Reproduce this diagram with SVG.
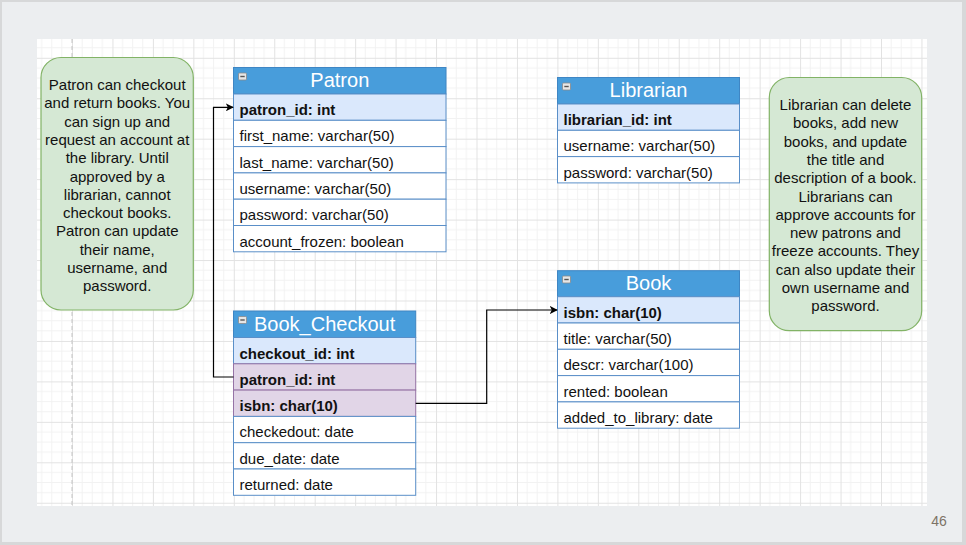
<svg xmlns="http://www.w3.org/2000/svg" width="966" height="545" viewBox="0 0 966 545">
<defs>
<pattern id="grid" patternUnits="userSpaceOnUse" x="72" y="57.8" width="40.45" height="40.45">
<path d="M10.11 0V40.45M20.22 0V40.45M30.33 0V40.45M0 10.11H40.45M0 20.22H40.45M0 30.33H40.45" stroke="#f2f2f2" stroke-width="1" fill="none"/>
<path d="M0.5 0V40.45M0 0.5H40.45" stroke="#e2e2e2" stroke-width="1" fill="none"/>
</pattern>
<marker id="arr" viewBox="0 0 10 10" refX="9" refY="5" markerWidth="8" markerHeight="8" markerUnits="userSpaceOnUse" orient="auto">
<path d="M0 0L10 5L0 10L2.5 5Z" fill="#000"/>
</marker>
<g id="tog"><rect x="0" y="0" width="8" height="7" rx="1" fill="#e6e6e6" stroke="#8a8a8a" stroke-width="0.8"/><line x1="1.8" y1="3.5" x2="6.2" y2="3.5" stroke="#555" stroke-width="1.4"/></g>
</defs>
<style>
.hd{fill:#489ddb;stroke:#3f86c4;stroke-width:1}
.ttl{font-family:"Liberation Sans",Arial,sans-serif;font-size:20px;fill:#fff;text-anchor:middle}
.pk{fill:#dae8fc;stroke:#5a8fc8;stroke-width:1}
.fk{fill:#e1d5e7;stroke:#9673a6;stroke-width:1}
.rw{fill:#fff;stroke:#5a8fc8;stroke-width:1}
.t{font-family:"Liberation Sans",Arial,sans-serif;font-size:15px;fill:#111}
.b{font-weight:bold}
.note{fill:#d5e8d4;stroke:#82b366;stroke-width:1.2}
.nt{font-family:"Liberation Sans",Arial,sans-serif;font-size:15px;fill:#111;text-anchor:middle}
.con{fill:none;stroke:#000;stroke-width:1.2}
</style>
<rect x="0" y="0" width="966" height="545" fill="#d7d8d9"/>
<rect x="2" y="2" width="960" height="540" fill="#eceef0"/>
<rect x="37" y="39" width="890" height="467" fill="#fff"/>
<rect x="37" y="39" width="890" height="467" fill="url(#grid)"/>
<line x1="72" y1="39" x2="72" y2="506" stroke="#c4c4c4" stroke-width="1" stroke-dasharray="4 3"/>

<g id="note-patron">
<rect class="note" x="41" y="57.5" width="152.3" height="252.5" rx="20"/>
<text class="nt" x="117.2" y="90">Patron can checkout</text>
<text class="nt" x="117.2" y="108.3">and return books. You</text>
<text class="nt" x="117.2" y="126.6">can sign up and</text>
<text class="nt" x="117.2" y="144.9">request an account at</text>
<text class="nt" x="117.2" y="163.2">the library. Until</text>
<text class="nt" x="117.2" y="181.5">approved by a</text>
<text class="nt" x="117.2" y="199.8">librarian, cannot</text>
<text class="nt" x="117.2" y="218.1">checkout books.</text>
<text class="nt" x="117.2" y="236.4">Patron can update</text>
<text class="nt" x="117.2" y="254.7">their name,</text>
<text class="nt" x="117.2" y="273">username, and</text>
<text class="nt" x="117.2" y="291.3">password.</text>
</g>

<g id="note-librarian">
<rect class="note" x="769.3" y="77.5" width="152.4" height="253.2" rx="20"/>
<text class="nt" x="845.5" y="110">Librarian can delete</text>
<text class="nt" x="845.5" y="128.3">books, add new</text>
<text class="nt" x="845.5" y="146.6">books, and update</text>
<text class="nt" x="845.5" y="164.9">the title and</text>
<text class="nt" x="845.5" y="183.2">description of a book.</text>
<text class="nt" x="845.5" y="201.5">Librarians can</text>
<text class="nt" x="845.5" y="219.8">approve accounts for</text>
<text class="nt" x="845.5" y="238.1">new patrons and</text>
<text class="nt" x="845.5" y="256.4">freeze accounts. They</text>
<text class="nt" x="845.5" y="274.7">can also update their</text>
<text class="nt" x="845.5" y="293">own username and</text>
<text class="nt" x="845.5" y="311.3">password.</text>
</g>

<g id="patron">
<rect class="hd" x="233.5" y="67.5" width="212.5" height="26.5"/>
<use href="#tog" x="238.5" y="73"/>
<text class="ttl" x="339.8" y="87.3">Patron</text>
<rect class="pk" x="233.5" y="94" width="212.5" height="26.3"/>
<rect class="rw" x="233.5" y="120.3" width="212.5" height="26.3"/>
<rect class="rw" x="233.5" y="146.6" width="212.5" height="26.3"/>
<rect class="rw" x="233.5" y="172.9" width="212.5" height="26.3"/>
<rect class="rw" x="233.5" y="199.2" width="212.5" height="26.3"/>
<rect class="rw" x="233.5" y="225.5" width="212.5" height="26.3"/>
<text class="t b" x="239.5" y="115">patron_id: int</text>
<text class="t" x="239.5" y="141.3">first_name: varchar(50)</text>
<text class="t" x="239.5" y="167.6">last_name: varchar(50)</text>
<text class="t" x="239.5" y="193.9">username: varchar(50)</text>
<text class="t" x="239.5" y="220.2">password: varchar(50)</text>
<text class="t" x="239.5" y="246.5">account_frozen: boolean</text>
</g>

<g id="book_checkout">
<rect class="hd" x="233.5" y="311" width="182.2" height="26.5"/>
<use href="#tog" x="238.5" y="316.5"/>
<text class="ttl" x="324.6" y="330.8">Book_Checkout</text>
<rect class="pk" x="233.5" y="337.5" width="182.2" height="26.3"/>
<rect class="fk" x="233.5" y="363.8" width="182.2" height="26.3"/>
<rect class="fk" x="233.5" y="390.1" width="182.2" height="26.3"/>
<rect class="rw" x="233.5" y="416.4" width="182.2" height="26.3"/>
<rect class="rw" x="233.5" y="442.7" width="182.2" height="26.3"/>
<rect class="rw" x="233.5" y="469" width="182.2" height="26.3"/>
<text class="t b" x="239.5" y="358.5">checkout_id: int</text>
<text class="t b" x="239.5" y="384.8">patron_id: int</text>
<text class="t b" x="239.5" y="411.1">isbn: char(10)</text>
<text class="t" x="239.5" y="437.4">checkedout: date</text>
<text class="t" x="239.5" y="463.7">due_date: date</text>
<text class="t" x="239.5" y="490">returned: date</text>
</g>

<g id="librarian">
<rect class="hd" x="557.5" y="77.5" width="182" height="26.5"/>
<use href="#tog" x="562.5" y="83"/>
<text class="ttl" x="648.5" y="97.3">Librarian</text>
<rect class="pk" x="557.5" y="104" width="182" height="26.3"/>
<rect class="rw" x="557.5" y="130.3" width="182" height="26.3"/>
<rect class="rw" x="557.5" y="156.6" width="182" height="26.3"/>
<text class="t b" x="563.5" y="125">librarian_id: int</text>
<text class="t" x="563.5" y="151.3">username: varchar(50)</text>
<text class="t" x="563.5" y="177.6">password: varchar(50)</text>
</g>

<g id="book">
<rect class="hd" x="557.5" y="270.7" width="182" height="26"/>
<use href="#tog" x="562.5" y="276"/>
<text class="ttl" x="648.5" y="290.3">Book</text>
<rect class="pk" x="557.5" y="296.7" width="182" height="26.3"/>
<rect class="rw" x="557.5" y="323" width="182" height="26.3"/>
<rect class="rw" x="557.5" y="349.3" width="182" height="26.3"/>
<rect class="rw" x="557.5" y="375.6" width="182" height="26.3"/>
<rect class="rw" x="557.5" y="401.9" width="182" height="26.3"/>
<text class="t b" x="563.5" y="317.7">isbn: char(10)</text>
<text class="t" x="563.5" y="344">title: varchar(50)</text>
<text class="t" x="563.5" y="370.3">descr: varchar(100)</text>
<text class="t" x="563.5" y="396.6">rented: boolean</text>
<text class="t" x="563.5" y="422.9">added_to_library: date</text>
</g>

<g id="connectors">
<path class="con" d="M233.5 377H213.5V107.3H233" marker-end="url(#arr)"/>
<path class="con" d="M415.7 403.3H486.7V310H557" marker-end="url(#arr)"/>
</g>

<text x="939" y="526" font-family="'Liberation Sans',Arial,sans-serif" font-size="14" fill="#7d7366" text-anchor="middle">46</text>
</svg>
